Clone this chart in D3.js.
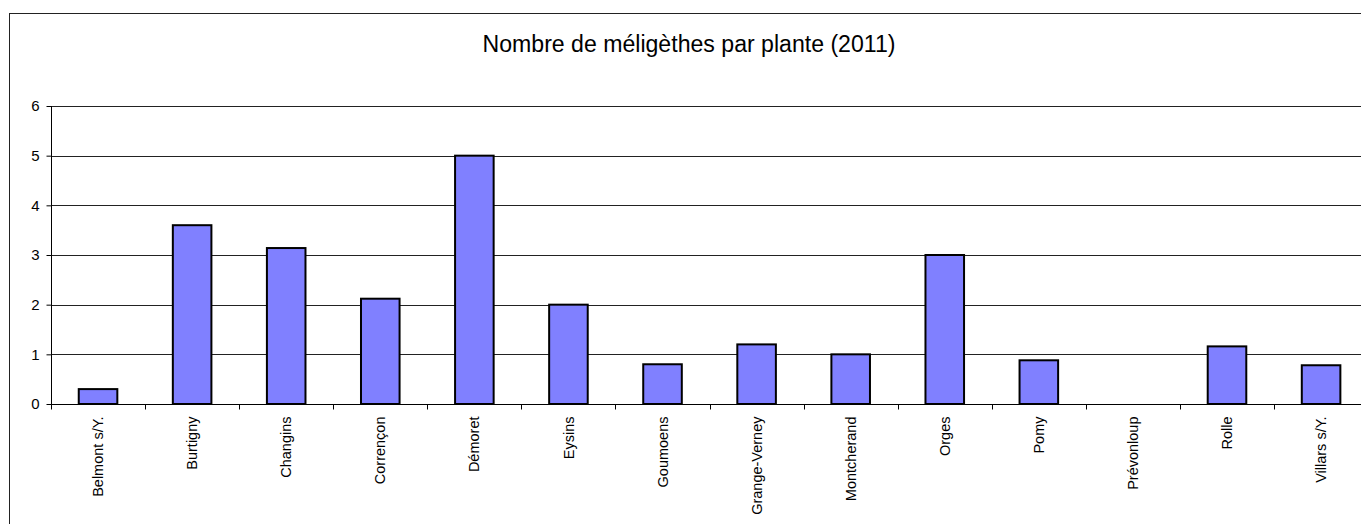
<!DOCTYPE html>
<html>
<head>
<meta charset="utf-8">
<script src="https://cdn.jsdelivr.net/npm/d3@7"></script>
<style>
  body { margin: 0; background: #fff; }
  svg { display: block; font-family: "Liberation Sans", Arial, sans-serif; }
</style>
</head>
<body>
<svg id="chart"></svg>
<script>
// Data
const categories = ["Belmont s/Y.", "Burtigny", "Changins", "Corrençon", "Démoret", "Eysins",
  "Goumoens", "Grange-Verney", "Montcherand", "Orges", "Pomy", "Prévonloup", "Rolle", "Villars s/Y."];
const values = [0.3, 3.6, 3.14, 2.12, 5.0, 2.0, 0.8, 1.2, 1.0, 3.0, 0.88, 0, 1.16, 0.78];
const yTicks = [0, 1, 2, 3, 4, 5, 6];
const title = "Nombre de méligèthes par plante (2011)";

const width = 1361, height = 524;
const svg = d3.select("#chart").attr("width", width).attr("height", height);

// outer chart border (right and bottom edges fall outside the picture)
svg.append("rect")
   .attr("x", 9.5).attr("y", 13.5)
   .attr("width", 1400).attr("height", 600)
   .attr("fill", "#fff").attr("stroke", "#222").attr("stroke-width", 1);

const plotLeft = 51, plotRight = 51 + 14 * 94.08;
const plotTop = 106, plotBottom = 404;

const xBand = d3.scaleBand().domain(categories).range([plotLeft, plotRight]);
const x = d3.scaleBand().domain(categories).range([plotLeft, plotRight])
            .paddingInner(0.59).paddingOuter(0.295);
const y = d3.scaleLinear().domain([0, 6]).range([plotBottom, plotTop]);

// title
svg.append("text")
   .attr("x", 689).attr("y", 52)
   .attr("text-anchor", "middle")
   .attr("font-size", 23.1)
   .attr("fill", "#000")
   .text(title);

// gridlines
svg.append("g")
   .selectAll("line")
   .data(yTicks.filter(d => d > 0))
   .join("line")
   .attr("x1", plotLeft).attr("x2", plotRight)
   .attr("y1", d => Math.round(y(d)) + 0.5).attr("y2", d => Math.round(y(d)) + 0.5)
   .attr("stroke", "#222").attr("stroke-width", 1);

// bars
svg.append("g")
   .selectAll("rect")
   .data(values)
   .join("rect")
   .attr("x", (d, i) => x(categories[i]))
   .attr("y", d => y(d))
   .attr("width", x.bandwidth())
   .attr("height", d => plotBottom - y(d))
   .attr("fill", "#8080ff")
   .attr("stroke", d => d > 0 ? "#000" : "none")
   .attr("stroke-width", 2);

// y axis
const yAxis = svg.append("g")
   .attr("transform", `translate(${plotLeft + 0.5},0)`)
   .call(d3.axisLeft(y).tickValues(yTicks).tickSize(5).tickPadding(7).tickFormat(d3.format("d")));
yAxis.select(".domain").attr("stroke", "#000").attr("d", `M0,${plotTop}V${plotBottom}`);
yAxis.selectAll(".tick line").attr("stroke", "#000");
yAxis.selectAll(".tick text")
     .attr("font-size", 15).attr("font-family", "Liberation Sans, Arial, sans-serif").attr("fill", "#000");

// x axis: labels at band centres, tick marks at band boundaries
const xAxis = svg.append("g")
   .attr("transform", `translate(0,${plotBottom + 0.5})`)
   .call(d3.axisBottom(xBand).tickSize(0).tickPadding(0));
xAxis.select(".domain").attr("stroke", "#000").attr("d", `M${plotLeft},0H${plotRight}`);
xAxis.selectAll(".tick text")
     .attr("font-size", 14.5).attr("font-family", "Liberation Sans, Arial, sans-serif").attr("fill", "#000")
     .attr("text-anchor", "end")
     .attr("y", 0).attr("dy", "0.35em")
     .attr("transform", "translate(0,12) rotate(-90)");

xAxis.append("g")
     .selectAll("line")
     .data(categories.map(c => xBand(c)).concat([plotRight]))
     .join("line")
     .attr("x1", d => Math.round(d) + 0.5).attr("x2", d => Math.round(d) + 0.5)
     .attr("y1", 0).attr("y2", 5)
     .attr("stroke", "#000");
</script>
</body>
</html>
